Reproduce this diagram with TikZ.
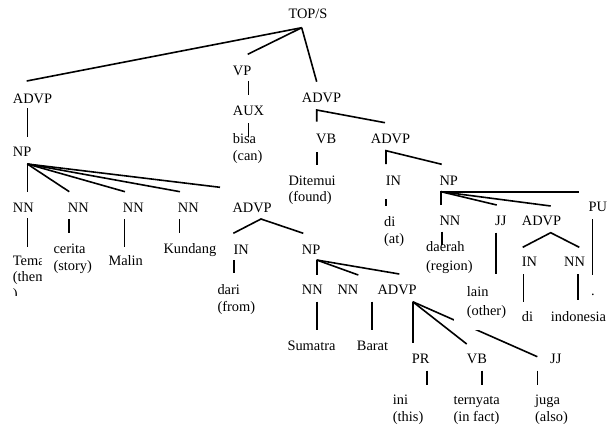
\documentclass[tikz,border=0pt]{standalone}
\usepackage{fontspec}
\setmainfont{Liberation Serif}
\begin{document}
\begin{tikzpicture}[x=1pt,y=-1pt,
  lbl/.style={anchor=base west,inner sep=0pt,font=\fontsize{14.4}{16.7}\selectfont},
  edge/.style={line width=1.6pt}]
\useasboundingbox (0,0) rectangle (611,428);
% ---------- connector end points ----------
\coordinate (tA) at (301.7,27.7);
\coordinate (advpLt) at (26.7,81);
\coordinate (vpt) at (247.7,54.3);
\coordinate (advpRt) at (316.7,81.7);
\coordinate (vpb) at (248.3,81);   \coordinate (auxt) at (248.3,95);
\coordinate (auxb) at (248.3,123); \coordinate (bisat) at (248.3,136.7);
\coordinate (advpRa) at (316.7,110); \coordinate (vbt) at (316.7,121.7); \coordinate (advpBt) at (385,122.7);
\coordinate (vbb) at (316.7,152.3); \coordinate (ditt) at (316.7,165);
\coordinate (advpBa) at (386,150.7); \coordinate (inAt) at (386,164); \coordinate (npAt) at (441.7,164.3);
\coordinate (inAb) at (386,199); \coordinate (diAt) at (386,206);
\coordinate (npAa) at (441,191.7); \coordinate (nnAt) at (441,205); \coordinate (jjAt) at (496.7,205);
\coordinate (advpCt) at (550.7,206); \coordinate (put) at (579.3,191.7);
\coordinate (nnAb) at (441.7,231.7); \coordinate (daet) at (441.7,245);
\coordinate (jjAb) at (496,232.7); \coordinate (laint) at (496,274);
\coordinate (pub) at (592.3,219.3); \coordinate (dott) at (592.3,275);
\coordinate (advpCa) at (550.7,232.7); \coordinate (inCt) at (522.7,247.3); \coordinate (nnCt) at (579.3,247.3);
\coordinate (inCb) at (523.3,274); \coordinate (diCt) at (523.3,301.7);
\coordinate (nnCb) at (577.7,274); \coordinate (indt) at (577.7,300);
\coordinate (advpLb) at (27.3,108.3); \coordinate (npLt) at (27.3,136.7);
\coordinate (npLa) at (27.3,164);
\coordinate (nn1t) at (27.3,191.7); \coordinate (nn2t) at (69.3,191.7); \coordinate (nn3t) at (125,191.7);
\coordinate (nn4t) at (180,191.7); \coordinate (advpMt) at (220,187.3);
\coordinate (nn1b) at (27.3,218.3); \coordinate (temt) at (27.3,246.7);
\coordinate (nn2b) at (69,219.3); \coordinate (cert) at (69,232.7);
\coordinate (nn3b) at (124.3,219); \coordinate (malt) at (124.3,246.7);
\coordinate (nn4b) at (179.3,219); \coordinate (kunt) at (179.3,232.7);
\coordinate (advpMa) at (261,219); \coordinate (inMt) at (233.3,233.3); \coordinate (npMt) at (303.3,233.3);
\coordinate (inMb) at (234,260); \coordinate (darit) at (234,273.3);
\coordinate (npMa) at (316.7,260); \coordinate (nnMt) at (316.7,275); \coordinate (nnNt) at (358.3,275); \coordinate (advpDt) at (399.3,274);
\coordinate (nnMb) at (316.7,301.7); \coordinate (sumt) at (316.7,330);
\coordinate (nnNb) at (371.7,301.7); \coordinate (bart) at (371.7,330);
\coordinate (advpDa) at (412.7,301.7); \coordinate (prt) at (412.7,343.3); \coordinate (vbDt) at (466.7,344); \coordinate (jjDt) at (537.3,356.7);
\coordinate (prb) at (426.7,370.7); \coordinate (init) at (426.7,385);
\coordinate (vbDb) at (481.7,370.7); \coordinate (tert) at (481.7,385);
\coordinate (jjDb) at (537.3,370.7); \coordinate (jugt) at (537.3,385);
% ---------- connectors ----------
\draw[edge] (tA) -- (advpLt);
\draw[edge] (tA) -- (vpt);
\draw[edge] (tA) -- (advpRt);
\draw[edge] (vpb) -- (auxt);
\draw[edge] (auxb) -- (bisat);
\draw[edge] (vbt) -- (advpRa) -- (advpBt);
\draw[edge] (vbb) -- (ditt);
\draw[edge] (inAt) -- (advpBa) -- (npAt);
\draw[edge] (inAb) -- (diAt);
\draw[edge] (nnAt) -- (npAa) -- (put);
\draw[edge] (npAa) -- (jjAt);
\draw[edge] (npAa) -- (advpCt);
\draw[edge] (nnAb) -- (daet);
\draw[edge] (jjAb) -- (laint);
\draw[edge] (pub) -- (dott);
\draw[edge] (inCt) -- (advpCa) -- (nnCt);
\draw[edge] (inCb) -- (diCt);
\draw[edge] (nnCb) -- (indt);
\draw[edge] (advpLb) -- (npLt);
\draw[edge] (npLa) -- (nn1t);
\draw[edge] (npLa) -- (nn2t);
\draw[edge] (npLa) -- (nn3t);
\draw[edge] (npLa) -- (nn4t);
\draw[edge] (npLa) -- (advpMt);
\draw[edge] (nn1b) -- (temt);
\draw[edge] (nn2b) -- (cert);
\draw[edge] (nn3b) -- (malt);
\draw[edge] (nn4b) -- (kunt);
\draw[edge] (inMt) -- (advpMa) -- (npMt);
\draw[edge] (inMb) -- (darit);
\draw[edge] (npMa) -- (nnMt);
\draw[edge] (npMa) -- (nnNt);
\draw[edge] (npMa) -- (advpDt);
\draw[edge] (nnMb) -- (sumt);
\draw[edge] (nnNb) -- (bart);
\draw[edge] (advpDa) -- (prt);
\draw[edge] (advpDa) -- (vbDt);
\draw[edge] (advpDa) -- (jjDt);
\draw[edge] (prb) -- (init);
\draw[edge] (vbDb) -- (tert);
\draw[edge] (jjDb) -- (jugt);
% ---------- labels ----------
\node[lbl] (top) at (288.3,19) {TOP/S};
\node[lbl] (advpL) at (12.7,103) {ADVP};
\node[lbl] (vp) at (232.7,75.7) {VP};
\node[lbl] (advpR) at (301.7,102.3) {ADVP};
\node[lbl] (aux) at (232.7,115.7) {AUX};
\node[lbl] (bisa) at (232.7,143.3) {bisa};
\node[lbl] (bisa2) at (232.7,160) {(can)};
\node[lbl] (vb) at (316,143.3) {VB};
\node[lbl] (advpB) at (370.7,143.5) {ADVP};
\node[lbl] (dit) at (288.3,185) {Ditemui};
\node[lbl] (dit2) at (288.3,201.7) {(found)};
\node[lbl] (inA) at (385.7,185.7) {IN};
\node[lbl] (npA) at (439.3,185.7) {NP};
\node[lbl] (diA) at (384,226) {di};
\node[lbl] (diA2) at (384,243.3) {(at)};
\node[lbl] (nnA) at (439.3,225) {NN};
\node[lbl] (jjA) at (495,225) {JJ};
\node[lbl] (advpC) at (521.7,225) {ADVP};
\node[lbl] (pu) at (588.3,211.7) {PU};
\node[lbl] (dae) at (426,251.7) {daerah};
\node[lbl] (dae2) at (426,270) {(region)};
\fill[white] (454,274) rectangle (519,330);
\node[lbl] (lain) at (466.7,296.7) {lain};
\node[lbl] (lain2) at (466.7,315) {(other)};
\node[lbl] (dot) at (591,295) {.};
\node[lbl] (inC) at (521.7,266.7) {IN};
\node[lbl] (nnC) at (564,266.7) {NN};
\node[lbl] (diC) at (521.7,321.7) {di};
\node[lbl] (ind) at (550.7,321.7) {indonesia};
\node[lbl] (npL) at (12.7,157) {NP};
\node[lbl] (nn1) at (12.7,212) {NN};
\node[lbl] (nn2) at (67.7,212) {NN};
\node[lbl] (nn3) at (122.7,212) {NN};
\node[lbl] (nn4) at (177.7,212) {NN};
\node[lbl] (advpM) at (232.3,212) {ADVP};
\begin{scope}
\clip (10,248) rectangle (41,295.5);
\node[lbl] (tem) at (12.7,265) {Tema};
\node[lbl] (tem2) at (12.7,281.7) {(theme};
\node[lbl] (tem3) at (12.7,298.4) {)};
\end{scope}
\node[lbl] (cer) at (53.3,253.3) {cerita};
\node[lbl] (cer2) at (53.3,270) {(story)};
\node[lbl] (mal) at (108.3,265) {Malin};
\node[lbl] (kun) at (163.3,253) {Kundang};
\node[lbl] (inM) at (233.3,254) {IN};
\node[lbl] (npM) at (301.7,254) {NP};
\node[lbl] (dari) at (217.3,294) {dari};
\node[lbl] (dari2) at (217.3,311.7) {(from)};
\node[lbl] (nnM) at (301.7,294) {NN};
\node[lbl] (nnN) at (337.3,294) {NN};
\node[lbl] (advpD) at (377.3,294) {ADVP};
\node[lbl] (sum) at (287.3,350) {Sumatra};
\node[lbl] (bar) at (356.7,350) {Barat};
\node[lbl] (pr) at (411.7,363.3) {PR};
\node[lbl] (vbD) at (466.7,363.3) {VB};
\node[lbl] (jjD) at (550,363.3) {JJ};
\node[lbl] (ini) at (392.7,404) {ini};
\node[lbl] (ini2) at (392.7,421.7) {(this)};
\node[lbl] (ter) at (453.3,404) {ternyata};
\node[lbl] (ter2) at (453.3,421.7) {(in fact)};
\node[lbl] (jug) at (535,404) {juga};
\node[lbl] (jug2) at (535,421.7) {(also)};
\end{tikzpicture}
\end{document}
